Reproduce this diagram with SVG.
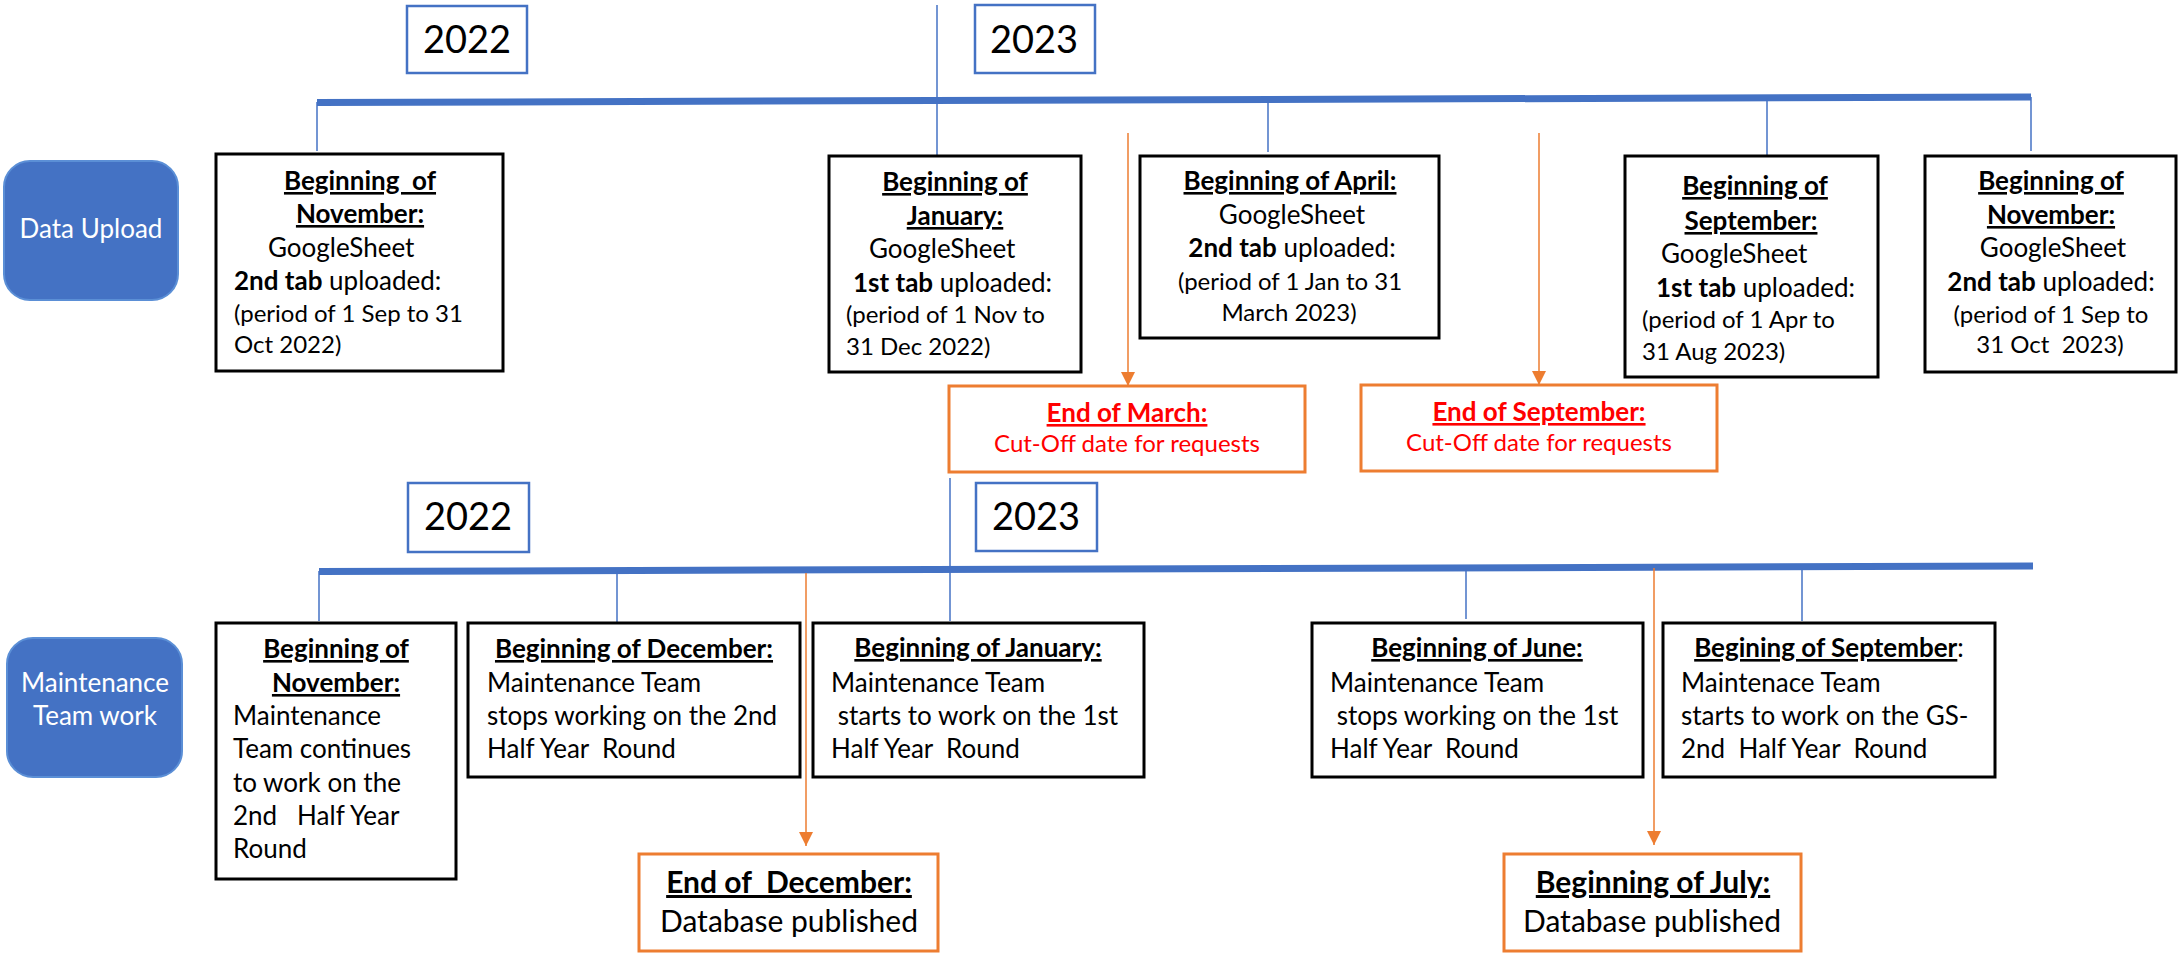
<svg xmlns="http://www.w3.org/2000/svg" width="2179" height="953" viewBox="0 0 2179 953">
<defs>
<style>
text{font-family:Lato,"Liberation Sans",sans-serif;white-space:pre;fill:#000}
.b{font-weight:bold}
.u{text-decoration:underline}
.f26{font-size:26px}
.f24{font-size:24px}
.f30{font-size:30px}
.yr{font-size:38px}
.m{text-anchor:middle}
.red{fill:#FF0000}
.wt{fill:#FFFFFF;font-size:26px;text-anchor:middle}
.box{fill:#FFFFFF;stroke:#000000;stroke-width:3}
.obox{fill:#FFFFFF;stroke:#ED7D31;stroke-width:3}
.ybox{fill:#FFFFFF;stroke:#4472C4;stroke-width:2.5}
.lbl{fill:#4472C4;stroke:#5B8FD6;stroke-width:2}
.tl{stroke:#4472C4;stroke-width:7;fill:none}
.tick{stroke:#4472C4;stroke-width:1.5;fill:none}
.arr{stroke:#ED7D31;stroke-width:1.5;fill:none;marker-end:url(#ah)}
</style>
<marker id="ah" markerUnits="userSpaceOnUse" markerWidth="14" markerHeight="14" viewBox="0 0 14 14" refX="14" refY="7" orient="auto">
<path d="M0,0 L14,7 L0,14 z" fill="#ED7D31"/>
</marker>
</defs>
<rect width="2179" height="953" fill="#FFFFFF"/>

<g id="connectors">
<line class="tl" x1="317" y1="102.5" x2="2031" y2="97"/>
<line class="tick" x1="317" y1="102" x2="317" y2="151"/>
<line class="tick" x1="937" y1="5" x2="937" y2="155"/>
<line class="tick" x1="1268" y1="99" x2="1268" y2="152"/>
<line class="tick" x1="1767" y1="98" x2="1767" y2="155"/>
<line class="tick" x1="2031" y1="97" x2="2031" y2="151"/>
<line class="arr" x1="1128" y1="133" x2="1128" y2="386"/>
<line class="arr" x1="1539" y1="133" x2="1539" y2="385"/>
<line class="tl" x1="319" y1="571.5" x2="2033" y2="566"/>
<line class="tick" x1="319" y1="571" x2="319" y2="621"/>
<line class="tick" x1="617" y1="571" x2="617" y2="622"/>
<line class="tick" x1="950" y1="478" x2="950" y2="621"/>
<line class="tick" x1="1466" y1="569" x2="1466" y2="619"/>
<line class="tick" x1="1802" y1="568" x2="1802" y2="621"/>
<line class="arr" x1="806" y1="573" x2="806" y2="846"/>
<line class="arr" x1="1654" y1="568" x2="1654" y2="845"/>
</g>

<g id="year-2022-top"><rect class="ybox" x="407" y="6" width="120" height="67"/><text class="yr m" x="467" y="53">2022</text></g>
<g id="year-2023-top"><rect class="ybox" x="975" y="5" width="120" height="68"/><text class="yr m" x="1034" y="53">2023</text></g>
<g id="year-2022-bottom"><rect class="ybox" x="408" y="483" width="121" height="69"/><text class="yr m" x="468" y="530">2022</text></g>
<g id="year-2023-bottom"><rect class="ybox" x="976" y="483" width="121" height="68"/><text class="yr m" x="1036" y="530">2023</text></g>

<g id="label-data-upload"><rect class="lbl" x="4" y="161" width="174" height="139" rx="26"/><text class="wt" x="91" y="238">Data Upload</text></g>
<g id="label-maintenance"><rect class="lbl" x="7" y="638" width="175" height="139" rx="26"/><text class="wt" x="95" y="692">Maintenance</text><text class="wt" x="95" y="725">Team work</text></g>

<g id="up-nov-2022">
<rect class="box" x="216" y="154" width="287" height="217"/>
<text class="f26 b u m" x="360" y="190">Beginning  of</text>
<text class="f26 b u m" x="360" y="223">November:</text>
<text class="f26" x="268" y="257">GoogleSheet</text>
<text class="f26" x="234" y="290"><tspan class="b">2nd tab</tspan> uploaded:</text>
<text class="f24" x="234" y="322">(period of 1 Sep to 31</text>
<text class="f24" x="234" y="353">Oct 2022)</text>
</g>

<g id="up-jan-2023">
<rect class="box" x="829" y="156" width="252" height="216"/>
<text class="f26 b u m" x="955" y="191">Beginning of</text>
<text class="f26 b u m" x="955" y="225">January:</text>
<text class="f26" x="869" y="258">GoogleSheet</text>
<text class="f26" x="853" y="292"><tspan class="b">1st tab</tspan> uploaded:</text>
<text class="f24" x="846" y="323">(period of 1 Nov to</text>
<text class="f24" x="846" y="355">31 Dec 2022)</text>
</g>

<g id="up-apr-2023">
<rect class="box" x="1140" y="156" width="299" height="182"/>
<text class="f26 b u m" x="1290" y="190">Beginning of April:</text>
<text class="f26 m" x="1292" y="224">GoogleSheet</text>
<text class="f26 m" x="1292" y="257"><tspan class="b">2nd tab</tspan> uploaded:</text>
<text class="f24 m" x="1290" y="290">(period of 1 Jan to 31</text>
<text class="f24 m" x="1289" y="321">March 2023)</text>
</g>

<g id="up-sep-2023">
<rect class="box" x="1625" y="156" width="253" height="221"/>
<text class="f26 b u m" x="1755" y="195">Beginning of</text>
<text class="f26 b u m" x="1751" y="230">September:</text>
<text class="f26" x="1661" y="263">GoogleSheet</text>
<text class="f26" x="1656" y="297"><tspan class="b">1st tab</tspan> uploaded:</text>
<text class="f24" x="1642" y="328">(period of 1 Apr to</text>
<text class="f24" x="1642" y="360">31 Aug 2023)</text>
</g>

<g id="up-nov-2023">
<rect class="box" x="1925" y="156" width="251" height="216"/>
<text class="f26 b u m" x="2051" y="190">Beginning of</text>
<text class="f26 b u m" x="2051" y="224">November:</text>
<text class="f26 m" x="2053" y="257">GoogleSheet</text>
<text class="f26 m" x="2051" y="291"><tspan class="b">2nd tab</tspan> uploaded:</text>
<text class="f24 m" x="2051" y="323">(period of 1 Sep to</text>
<text class="f24 m" x="2050" y="353">31 Oct  2023)</text>
</g>

<g id="cutoff-march">
<rect class="obox" x="949" y="386" width="356" height="86"/>
<text class="f26 b u m red" x="1127" y="422">End of March:</text>
<text class="f24 m red" x="1127" y="452">Cut-Off date for requests</text>
</g>

<g id="cutoff-september">
<rect class="obox" x="1361" y="385" width="356" height="86"/>
<text class="f26 b u m red" x="1539" y="421">End of September:</text>
<text class="f24 m red" x="1539" y="451">Cut-Off date for requests</text>
</g>

<g id="mt-nov-2022">
<rect class="box" x="216" y="623" width="240" height="256"/>
<text class="f26 b u m" x="336" y="658">Beginning of</text>
<text class="f26 b u m" x="336" y="692">November:</text>
<text class="f26" x="233" y="725">Maintenance</text>
<text class="f26" x="233" y="758">Team continues</text>
<text class="f26" x="233" y="792">to work on the</text>
<text class="f26" x="233" y="825">2nd   Half Year</text>
<text class="f26" x="233" y="858">Round</text>
</g>

<g id="mt-dec-2022">
<rect class="box" x="468" y="623" width="332" height="154"/>
<text class="f26 b u m" x="634" y="658">Beginning of December:</text>
<text class="f26" x="487" y="692">Maintenance Team</text>
<text class="f26" x="487" y="725">stops working on the 2nd</text>
<text class="f26" x="487" y="758">Half Year  Round</text>
</g>

<g id="mt-jan-2023">
<rect class="box" x="813" y="623" width="331" height="154"/>
<text class="f26 b u m" x="978" y="657">Beginning of January:</text>
<text class="f26" x="831" y="692">Maintenance Team</text>
<text class="f26" x="831" y="725"> starts to work on the 1st</text>
<text class="f26" x="831" y="758">Half Year  Round</text>
</g>

<g id="mt-jun-2023">
<rect class="box" x="1312" y="623" width="331" height="154"/>
<text class="f26 b u m" x="1477" y="657">Beginning of June:</text>
<text class="f26" x="1330" y="692">Maintenance Team</text>
<text class="f26" x="1330" y="725"> stops working on the 1st</text>
<text class="f26" x="1330" y="758">Half Year  Round</text>
</g>

<g id="mt-sep-2023">
<rect class="box" x="1663" y="623" width="332" height="154"/>
<text class="f26 m" x="1829" y="657"><tspan class="b u">Begining of September</tspan>:</text>
<text class="f26" x="1681" y="692">Maintenace Team</text>
<text class="f26" x="1681" y="725">starts to work on the GS-</text>
<text class="f26" x="1681" y="758">2nd  Half Year  Round</text>
</g>

<g id="pub-dec-2022">
<rect class="obox" x="639" y="854" width="299" height="97"/>
<text class="f30 b u m" x="789" y="893">End of  December:</text>
<text class="f30 m" x="789" y="932">Database published</text>
</g>

<g id="pub-jul-2023">
<rect class="obox" x="1504" y="854" width="297" height="97"/>
<text class="f30 b u m" x="1653" y="893">Beginning of July:</text>
<text class="f30 m" x="1652" y="932">Database published</text>
</g>
</svg>
